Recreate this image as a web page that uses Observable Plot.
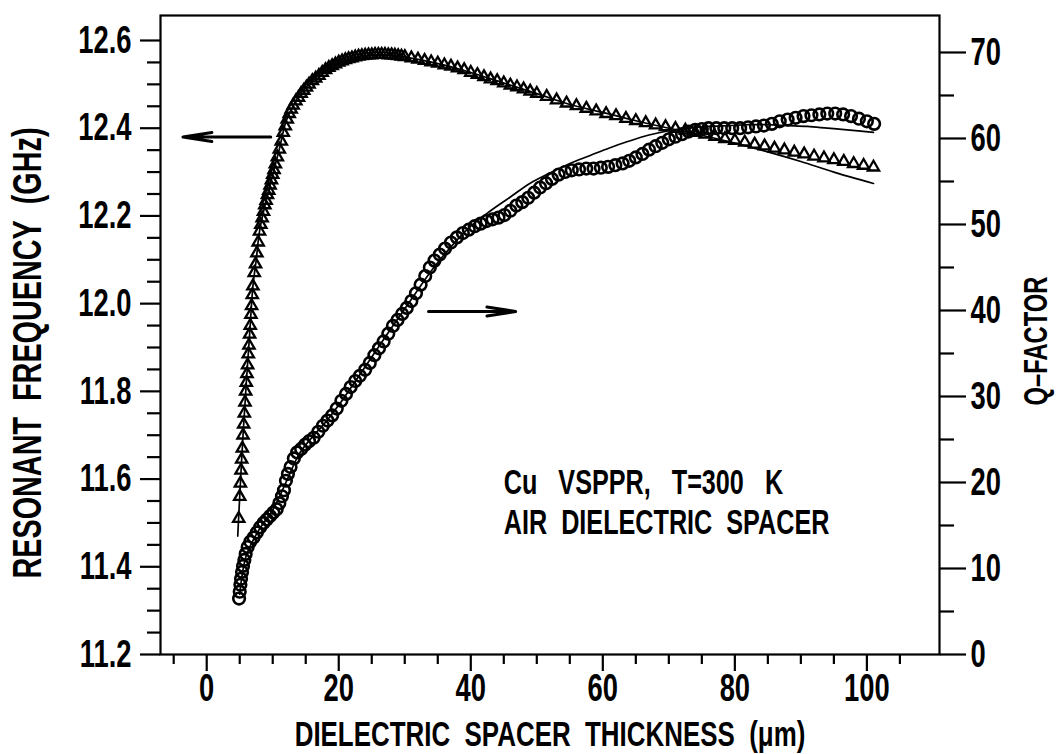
<!DOCTYPE html>
<html><head><meta charset="utf-8">
<script src="https://cdn.jsdelivr.net/npm/d3@7"></script>
<script src="https://cdn.jsdelivr.net/npm/@observablehq/plot@0.6"></script>
<style>body{margin:0;background:#fff} svg{display:block}</style>
</head><body><div id="chart"></div>
<script>
// ---- Data ----
// Resonant frequency (GHz), triangles, left axis
const triX = [
  4.85,5.0,5.1,5.2,5.3,5.4,5.5,5.6,5.7,5.8,
  5.9,6.0,6.1,6.2,6.3,6.4,6.5,6.6,6.7,6.8,
  6.9,7.0,7.2,7.4,7.6,7.8,8.0,8.2,8.4,8.6,
  8.8,9.0,9.2,9.4,9.6,9.8,10.0,10.2,10.4,10.7,
  11.0,11.3,11.6,11.9,12.2,12.5,12.8,13.1,13.5,13.9,
  14.3,14.7,15.1,15.5,16.0,16.5,17.0,17.5,18.0,18.5,
  19.0,19.5,20,20.5,21,21.5,22,22.5,23,23.5,
  24,24.5,25,25.5,26,26.5,27,27.5,28,28.5,
  29,29.5,30,31,32,33,34,35,36,37,
  38,39,40,41,42,43,44,45,46,47,
  48,49,50,51.5,53,54.5,56,57.5,59,60.5,
  62,63.5,65,66.5,68,69.5,71,72.5,74,75.5,
  77,78.5,80,81.5,83,84.5,86,87.5,89,90.5,
  92,93.5,95,96.5,98,99.5,101];
const triF = [
  11.51,11.56,11.59,11.62,11.645,11.67,11.70,11.725,11.75,11.775,
  11.80,11.82,11.84,11.86,11.885,11.905,11.93,11.95,11.975,11.995,
  12.02,12.04,12.07,12.09,12.115,12.14,12.165,12.18,12.195,12.21,
  12.225,12.235,12.248,12.258,12.27,12.282,12.294,12.305,12.318,12.334,
  12.352,12.37,12.39,12.405,12.42,12.433,12.443,12.452,12.462,12.47,
  12.479,12.486,12.493,12.5,12.508,12.514,12.52,12.527,12.533,12.538,
  12.542,12.546,12.55,12.553,12.556,12.558,12.56,12.562,12.564,12.565,
  12.566,12.567,12.567,12.568,12.568,12.568,12.568,12.567,12.567,12.566,
  12.565,12.564,12.563,12.56,12.557,12.554,12.551,12.548,12.544,12.541,
  12.537,12.533,12.527,12.522,12.517,12.512,12.508,12.503,12.498,12.494,
  12.489,12.484,12.479,12.472,12.464,12.457,12.451,12.445,12.439,12.433,
  12.428,12.422,12.417,12.412,12.407,12.403,12.399,12.395,12.39,12.386,
  12.381,12.376,12.372,12.368,12.363,12.359,12.354,12.35,12.345,12.341,
  12.336,12.332,12.328,12.324,12.319,12.315,12.311];

// Q-factor, circles, right axis
const qX = [
  4.9,5.0,5.1,5.2,5.35,5.5,5.7,5.9,6.2,6.6,
  7.1,7.6,8.1,8.6,9.1,9.6,10.1,10.6,11.0,11.4,
  11.7,12.0,12.3,12.7,13.2,13.7,14.3,14.9,15.5,16.2,
  16.9,17.6,18.3,19.0,19.7,20.4,21.1,21.8,22.5,23.2,
  24.0,24.7,25.4,26.1,26.8,27.5,28.2,28.9,29.6,30.3,
  31.0,31.7,32.4,33.1,33.8,34.5,35.3,36.1,37.0,37.9,
  38.8,39.7,40.6,41.5,42.4,43.3,44.2,45.1,46.0,46.9,
  47.8,48.7,49.6,50.5,51.4,52.3,53.3,54.3,55.3,56.4,
  57.5,58.6,59.7,60.8,61.9,63.0,64.0,65.0,66.0,67.0,
  68.0,69.0,70.0,71.0,72.0,73.0,74.0,75.0,76.0,77.2,
  78.4,79.6,80.8,82.0,83.2,84.4,85.6,86.8,88.0,89.2,
  90.4,91.6,92.8,94.0,95.2,96.4,97.6,98.8,100.0,101.1];
const qV = [
  6.5,7.3,8.1,8.8,9.6,10.3,11.0,11.7,12.5,13.1,
  13.6,14.2,14.8,15.3,15.7,16.1,16.5,16.9,17.6,18.4,
  19.1,20.2,21.0,21.8,22.8,23.5,23.9,24.4,24.8,25.2,
  25.9,26.6,27.2,27.8,28.6,29.5,30.3,31.1,31.8,32.4,
  33.1,33.9,34.8,35.6,36.4,37.3,38.2,38.9,39.6,40.3,
  41.1,42.0,43.0,44.0,45.0,45.8,46.5,47.2,47.9,48.5,
  49.0,49.4,49.8,50.1,50.4,50.6,50.8,51.1,51.6,52.2,
  52.6,53.1,53.7,54.3,54.8,55.3,55.8,56.1,56.3,56.4,
  56.5,56.5,56.6,56.7,56.9,57.1,57.4,57.8,58.2,58.7,
  59.1,59.5,59.9,60.2,60.5,60.8,61.0,61.1,61.2,61.2,
  61.2,61.2,61.2,61.3,61.4,61.5,61.7,62.0,62.2,62.4,
  62.6,62.7,62.8,62.9,62.9,62.8,62.6,62.3,62.0,61.7];

// Fitted curves (thin solid lines)
const fFitX = [4.7,5,5.5,6,6.5,7,7.5,8,9,10,11,12,13,14,16,18,20,22,25,28,32,36,40,45,50,55,60,65,70,75,80,85,90,95,101];
const fFitF = [11.47,11.56,11.70,11.82,11.93,12.04,12.10,12.165,12.235,12.294,12.352,12.415,12.448,12.475,12.508,12.533,12.55,12.56,12.567,12.567,12.557,12.544,12.527,12.503,12.479,12.454,12.436,12.417,12.400,12.384,12.366,12.346,12.324,12.30,12.274];
const qFitX = [5,6,8,10,12,14,16,18,20,22,25,28,31,34,37,40,43,46,49,52,55,58,61,64,67,70,73,76,79,82,85,88,91,94,97,101];
const qFitV = [7.0,11.5,14.6,16.8,20.0,23.3,25.3,27.0,29.0,31.2,34.6,38.0,41.3,44.6,47.4,49.8,51.6,53.2,54.8,56.0,57.1,58.0,58.9,59.7,60.4,60.9,61.2,61.4,61.5,61.6,61.6,61.5,61.4,61.2,61.0,60.7];

// Axis ticks
const xMajor = [0, 20, 40, 60, 80, 100];
const xMinor = [-5, 5, 10, 15, 25, 30, 35, 45, 50, 55, 65, 70, 75, 85, 90, 95, 105];
const fMajor = [11.2, 11.4, 11.6, 11.8, 12.0, 12.2, 12.4, 12.6];
const fMinor = [11.25, 11.3, 11.35, 11.45, 11.5, 11.55, 11.65, 11.7, 11.75, 11.85, 11.9, 11.95, 12.05, 12.1, 12.15, 12.25, 12.3, 12.35, 12.45, 12.5, 12.55];
const qMajor = [0, 10, 20, 30, 40, 50, 60, 70];
const qMinor = [5, 15, 25, 35, 45, 55, 65];

// Annotations
const arrowX1 = [9.7, 33.6];
const arrowX2 = [-3.6, 46.8];
const arrowY = [12.38, 11.982];
const noteLines = ["Cu\u00a0\u00a0 VSPPR,\u00a0\u00a0 T=300\u00a0\u00a0 K", "AIR\u00a0 DIELECTRIC\u00a0 SPACER"];
const noteX = [45, 45];
const noteY = [11.565, 11.474];
const xLabel = ["DIELECTRIC\u00a0 SPACER\u00a0 THICKNESS\u00a0 (\u03bcm)"];
const yLabel = ["RESONANT\u00a0 FREQUENCY\u00a0 (GHz)"];
const qLabel = ["Q\u2013FACTOR"];

// ---- Scales ----
const F0 = 11.2, FTOP = 12.657, QTOP = 74.3;
const qToF = q => F0 + q * (FTOP - F0) / QTOP;
const fToQ = f => (f - F0) * QTOP / (FTOP - F0);

const chart = Plot.plot({
  width: 1057, height: 754,
  marginLeft: 160, marginRight: 118, marginTop: 15, marginBottom: 100,
  style: {fontFamily: "'Liberation Sans', Arial, sans-serif", fontWeight: "bold", background: "white", color: "black", overflow: "visible"},
  x: {domain: [-7, 111]},
  y: {domain: [F0, FTOP]},
  marks: [
    Plot.line(fFitX, {x: fFitX, y: fFitF, curve: "catmull-rom", strokeWidth: 1.7, stroke: "black"}),
    Plot.line(qFitX, {x: qFitX, y: qFitV.map(qToF), curve: "catmull-rom", strokeWidth: 1.7, stroke: "black"}),
    Plot.dot(triX, {x: triX, y: triF, symbol: "triangle", r: 4.2, stroke: "black", strokeWidth: 2.3, fill: "none"}),
    Plot.dot(qX, {x: qX, y: qV.map(qToF), symbol: "circle", r: 5.8, stroke: "black", strokeWidth: 2.6, fill: "none"}),
    Plot.arrow(arrowX1, {x1: arrowX1, y1: arrowY, x2: arrowX2, y2: arrowY, headLength: 25, headAngle: 18, strokeWidth: 3, stroke: "black"}),
    Plot.text(noteLines, {x: noteX, y: noteY, text: d => d, textAnchor: "start", lineAnchor: "bottom", fontSize: 35, fontWeight: "bold", fill: "black"}),
    Plot.frame({strokeWidth: 2.2, stroke: "black"}),
    Plot.axisX({ticks: xMinor, tickSize: 10, strokeWidth: 2.2, fill: "none", label: null}),
    Plot.axisX({ticks: xMajor, tickSize: 17, tickPadding: 3, strokeWidth: 2.2, fontSize: 38, fontWeight: "bold", label: null, tickFormat: d => String(d)}),
    Plot.axisY({ticks: fMinor, tickSize: 13, strokeWidth: 2.2, fill: "none", label: null}),
    Plot.axisY({ticks: fMajor, tickSize: 20, tickPadding: 9, strokeWidth: 2.2, fontSize: 38, fontWeight: "bold", label: null, tickFormat: d3.format(".1f")}),
    Plot.axisY({anchor: "right", ticks: qMinor.map(qToF), tickSize: 14, strokeWidth: 2.2, fill: "none", label: null}),
    Plot.axisY({anchor: "right", ticks: qMajor.map(qToF), tickSize: 26, tickPadding: 5, strokeWidth: 2.2, fontSize: 38, fontWeight: "bold", label: null, tickFormat: f => String(Math.round(fToQ(f)))}),
    Plot.text(xLabel, {frameAnchor: "bottom", dy: 80, text: d => d, textAnchor: "middle", lineAnchor: "middle", fontSize: 36, fontWeight: "bold", fill: "black"}),
    Plot.text(yLabel, {frameAnchor: "left", dx: -132, dy: 18, rotate: -90, text: d => d, textAnchor: "middle", lineAnchor: "middle", fontSize: 40, fontWeight: "bold", fill: "black"}),
    Plot.text(qLabel, {frameAnchor: "right", dx: 97, dy: 6, rotate: -90, text: d => d, textAnchor: "middle", lineAnchor: "middle", fontSize: 33, fontWeight: "bold", fill: "black"})
  ]
});

// condensed lettering like the original figure
chart.querySelectorAll("text").forEach(t => {
  const tr = t.getAttribute("transform") || "";
  t.setAttribute("transform", (tr + " scale(0.72,1)").trim());
});

document.getElementById("chart").appendChild(chart);
</script>
</body></html>
